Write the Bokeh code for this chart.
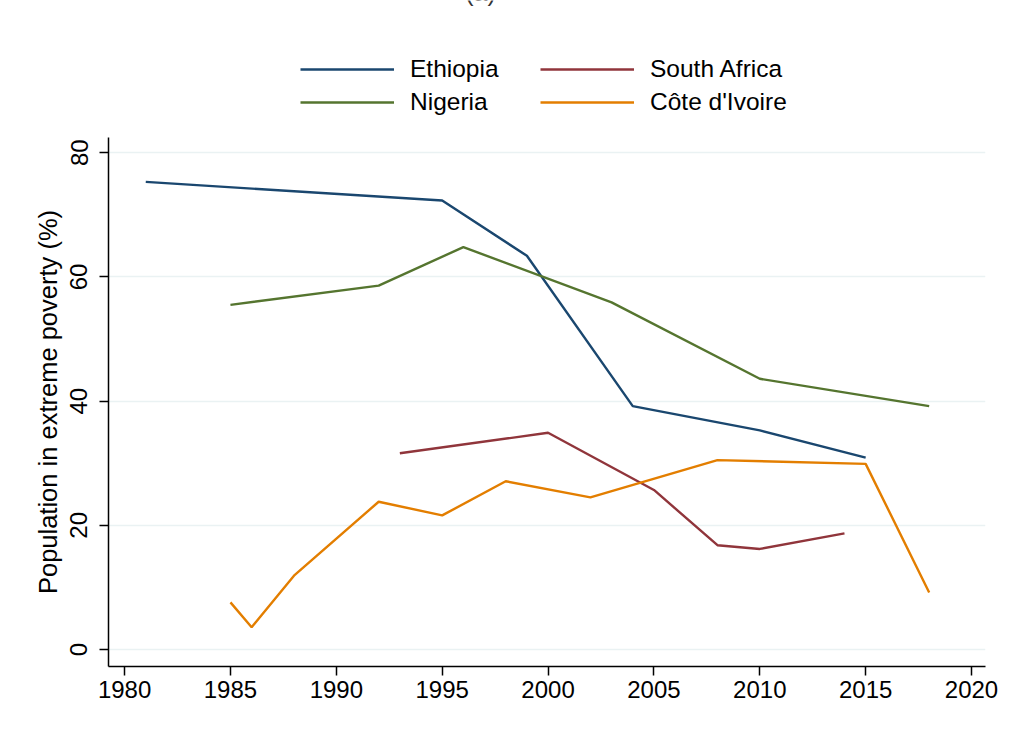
from bokeh.plotting import figure
from bokeh.layouts import column
from bokeh.models import Range1d, FixedTicker, Legend, LegendItem, Label
from bokeh.embed import file_html
from bokeh.resources import INLINE

# Share of population living in extreme poverty (%), by survey year
eth_years = [1981, 1995, 1999, 2004, 2010, 2015]
eth_vals = [75.3, 72.3, 63.4, 39.2, 35.3, 30.9]

nga_years = [1985, 1992, 1996, 2003, 2010, 2018]
nga_vals = [55.5, 58.6, 64.8, 55.9, 43.6, 39.2]

zaf_years = [1993, 2000, 2005, 2008, 2010, 2014]
zaf_vals = [31.6, 34.9, 25.7, 16.8, 16.2, 18.7]

civ_years = [1985, 1986, 1988, 1992, 1995, 1998, 2002, 2008, 2015, 2018]
civ_vals = [7.6, 3.6, 11.9, 23.8, 21.6, 27.1, 24.5, 30.5, 29.9, 9.2]

countries = ["Ethiopia", "Nigeria", "South Africa", "Côte d'Ivoire"]
x_ticks = [1980, 1985, 1990, 1995, 2000, 2005, 2010, 2015, 2020]
y_ticks = [0, 20, 40, 60, 80]

FONT = "Liberation Sans"
NAVY, MAROON, GREEN, ORANGE = "#1a476f", "#90353b", "#55752f", "#e37e00"
colors = {"Ethiopia": NAVY, "Nigeria": GREEN, "South Africa": MAROON, "Côte d'Ivoire": ORANGE}
LW = 2.4

W, TOP_H, H = 1013, 137, 740
LEFT, RIGHT = 108, 28   # frame margins shared by both strips (column aligns them)

# ---- header strip: panel letter and legend ----
head = figure(width=W, height=TOP_H, output_backend="svg", toolbar_location=None,
              x_axis_type=None, y_axis_type=None,
              x_range=Range1d(0, 1), y_range=Range1d(0, 1),
              min_border_left=LEFT, min_border_right=RIGHT,
              min_border_top=0, min_border_bottom=0)
head.outline_line_color = None
head.background_fill_color = "white"
head.border_fill_color = "white"

nan = float("nan")
key = {name: head.line([nan], [nan], line_color=colors[name], line_width=LW)
       for name in countries}


def make_legend(names, x):
    return Legend(items=[LegendItem(label=n, renderers=[key[n]]) for n in names],
                  location=(x, 21), orientation="vertical",
                  glyph_width=94, glyph_height=22, label_height=22,
                  label_standoff=16, spacing=5, padding=0, margin=0,
                  border_line_color=None, background_fill_alpha=0,
                  label_text_font=FONT, label_text_font_size="24.5px",
                  label_text_color="black")


head.add_layout(make_legend(["Ethiopia", "Nigeria"], 300 - LEFT))
head.add_layout(make_legend(["South Africa", "Côte d'Ivoire"], 540 - LEFT))

head.add_layout(Label(x=480 - LEFT, y=TOP_H - 5, x_units="screen", y_units="screen",
                      text="(a)", text_align="center", text_baseline="bottom",
                      text_font=FONT, text_font_size="25px", text_color="#333333"))

# ---- main chart ----
p = figure(width=W, height=H - TOP_H, output_backend="svg", toolbar_location=None,
           x_range=Range1d(1979.24, 2020.66), y_range=Range1d(-2.73, 82.45),
           min_border_left=LEFT, min_border_right=RIGHT,
           min_border_top=0, min_border_bottom=74)
p.outline_line_color = None
p.background_fill_color = "white"
p.border_fill_color = "white"

p.xgrid.visible = False
p.ygrid.grid_line_color = "#eaf2f3"
p.ygrid.grid_line_width = 1.5

for ax in (p.xaxis[0], p.yaxis[0]):
    ax.axis_line_color = "black"
    ax.axis_line_width = 1.5
    ax.major_tick_line_color = "black"
    ax.major_tick_line_width = 1.5
    ax.major_tick_out = 9
    ax.major_tick_in = 0
    ax.minor_tick_line_color = None
    ax.major_label_text_font = FONT
    ax.major_label_text_font_size = "24px"
    ax.major_label_text_color = "black"

p.xaxis.ticker = FixedTicker(ticks=x_ticks)
p.xaxis.major_label_standoff = 5
p.yaxis.ticker = FixedTicker(ticks=y_ticks)
p.yaxis.major_label_orientation = "vertical"
p.yaxis.major_label_standoff = 12
p.yaxis.axis_label = "Population in extreme poverty (%)"
p.yaxis.axis_label_text_font = FONT
p.yaxis.axis_label_text_font_style = "normal"
p.yaxis.axis_label_text_font_size = "25.5px"
p.yaxis.axis_label_text_color = "black"
p.yaxis.axis_label_standoff = 6

p.line(eth_years, eth_vals, line_color=NAVY, line_width=LW)
p.line(nga_years, nga_vals, line_color=GREEN, line_width=LW)
p.line(zaf_years, zaf_vals, line_color=MAROON, line_width=LW)
p.line(civ_years, civ_vals, line_color=ORANGE, line_width=LW)

layout = column(head, p, spacing=0)
open("out.html", "w").write(file_html(layout, INLINE))
